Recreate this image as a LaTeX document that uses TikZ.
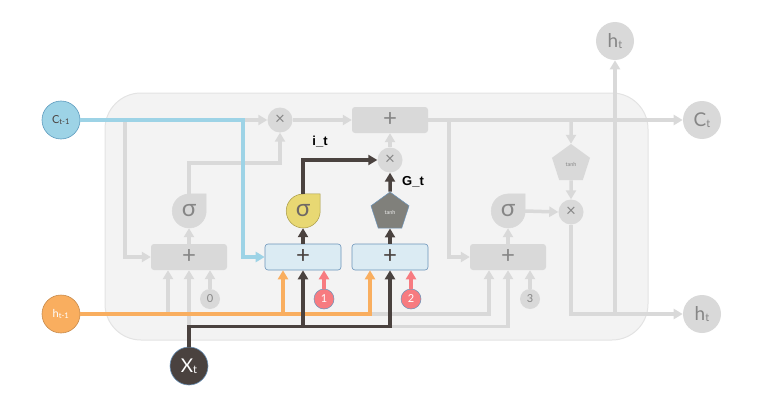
\documentclass[tikz,border=0pt]{standalone}
\usepackage{fontspec}
\setmainfont{Lato}
\newfontfamily\labelfont{Liberation Sans}
\usetikzlibrary{
  positioning,
  arrows.meta,
  shapes.geometric,
  backgrounds
}
\definecolor{cellbg}{HTML}{F3F3F3}
\definecolor{cellrim}{HTML}{E3E3E3}
\definecolor{lgray}{HTML}{D9D9D9}
\definecolor{tgray}{HTML}{868686}
\definecolor{cblue}{HTML}{9DD3E6}
\definecolor{cbluerim}{HTML}{5E9CBF}
\definecolor{boxblue}{HTML}{DBEBF3}
\definecolor{boxrim}{HTML}{6C94BA}
\definecolor{horange}{HTML}{F9AE5F}
\definecolor{xdark}{HTML}{4A423F}
\definecolor{gred}{HTML}{F77B80}
\definecolor{syellow}{HTML}{E8D873}
\definecolor{syellowrim}{HTML}{A89A45}
\definecolor{tanhgray}{HTML}{80807B}
\tikzset{
  >={Triangle[length=9pt,width=10pt]},
  gline/.style={draw=lgray,line width=3.5pt},
  garrow/.style={gline,->},
  barrow/.style={draw=cblue,line width=3.5pt,->},
  oarrow/.style={draw=horange,line width=3.5pt,->},
  karrow/.style={draw=xdark,line width=3.5pt,->},
  rarrow/.style={draw=gred,line width=3.5pt,->},
  circ/.style={circle,minimum size=38pt,inner sep=0pt,line width=0.6pt},
  outcirc/.style={circ,fill=lgray,text=tgray,font=\fontsize{19}{19}\selectfont},
  sumbox/.style={rectangle,rounded corners=3pt,minimum width=76pt,minimum height=26pt,
    fill=lgray,text=tgray,font=\fontsize{24}{24}\selectfont},
  sumboxon/.style={sumbox,fill=boxblue,draw=boxrim,line width=0.6pt,text=xdark},
  sigbox/.style={circle,minimum size=34pt,inner sep=0pt,text=tgray,font=\fontsize{24}{24}\selectfont},
  mulnode/.style={circle,minimum size=25pt,inner sep=0pt,fill=lgray,text=tgray,font=\fontsize{17}{17}\selectfont},
  tanhbox/.style={regular polygon,regular polygon sides=5,minimum size=40pt,inner sep=0pt,
    font=\fontsize{5.5}{5.5}\selectfont},
  numnode/.style={circle,minimum size=20pt,inner sep=0pt,font=\fontsize{11}{11}\selectfont},
  gatelabel/.style={font=\labelfont\bfseries\fontsize{13}{13}\selectfont}
}

\begin{document}
\begin{tikzpicture}[x=1pt, y=-1pt, node distance=46pt, on grid]
    \useasboundingbox (0,0) rectangle (776,404);
    \begin{scope}[on background layer]
      \draw[cellrim, fill=cellbg, line width=1pt, rounded corners=36pt] (105,93) rectangle (648,340);
    \end{scope}

    % inputs and outputs
    \node[circ, fill=cblue, draw=cbluerim, text=xdark, font=\fontsize{11}{11}\selectfont] (ctm) at (61,120) {C\textsubscript{t-1}};
    \node[circ, fill=horange, draw=horange!80!black, text=white, font=\fontsize{11}{11}\selectfont] (htm) at (61,314) {h\textsubscript{t-1}};
    \node[circ, fill=xdark, draw=boxrim, text=white, font=\fontsize{19}{19}\selectfont] (xt) at (189,366) {X\raisebox{-1pt}{\fontsize{11}{11}\selectfont t}};
    \node[outcirc] (htop) at (615,41) {h\raisebox{-1pt}{\fontsize{11}{11}\selectfont t}};
    \node[outcirc] (ct) at (702,120) {C\raisebox{-1pt}{\fontsize{11}{11}\selectfont t}};
    \node[outcirc] (hout) at (702,314) {h\raisebox{-1pt}{\fontsize{11}{11}\selectfont t}};

    % forget gate
    \node[sumbox] (fsum) at (189,257) {+};
    \node[sigbox, above=of fsum] (fsig) {σ};
    \node[mulnode] (fmul) at (280,120) {×};
    \node[numnode, fill=lgray, text=tgray] (n0) at (210,299) {0};

    % cell update
    \node[sumbox] (csum) at (390,120) {+};

    % input gate
    \node[sumboxon] (isum) at (303,257) {+};
    \node[sigbox, above=of isum, text=xdark!80] (isig) {σ};
    \node[numnode, fill=gred, draw=boxrim, line width=0.5pt, text=white] (n1) at (324,299) {1};

    % candidate
    \node[sumboxon] (gsum) at (390,257) {+};
    \node[tanhbox, fill=tanhgray, draw=boxrim, line width=0.5pt, text=white!85!gray, above=45pt of gsum] (gtanh) {tanh};
    \node[mulnode, above=52pt of gtanh] (imul) {×};
    \node[numnode, fill=gred, draw=boxrim, line width=0.5pt, text=white] (n2) at (411,299) {2};

    % output gate
    \node[sumbox] (osum) at (508,257) {+};
    \node[sigbox, above=of osum] (osig) {σ};
    \node[mulnode] (omul) at (571,212) {×};
    \node[tanhbox, fill=lgray, text=tgray, above=48pt of omul] (otanh) {tanh};
    \node[numnode, fill=lgray, text=tgray] (n3) at (530,299) {3};

    \node[gatelabel] (itlab) at (320,142) {i\_t};
    \node[gatelabel] (gtlab) at (413,182) {G\_t};

    % sigma teardrops
    \begin{scope}[on background layer]
      \foreach \s/\c/\r in {fsig/lgray/lgray, isig/syellow/syellowrim, osig/lgray/lgray}
        \draw[fill=\c, draw=\r, line width=0.5pt] (\s.north) -- ++(17pt,0pt) -- (\s.east)
          arc[start angle=0, end angle=-270, radius=17pt] -- cycle;
    \end{scope}

    \coordinate (fsplit) at (125,120);
    \coordinate (cbend) at (243,120);
    \coordinate (osplit) at (449,120);
    \coordinate (tsplit) at (571,120);
    \coordinate (hsplit) at (615,314);

    % grey paths
    \draw[garrow] (ctm.east) -- (fmul.west);
    \draw[garrow] (fsplit) |- (fsum.west);
    \draw[garrow] (fsum) -- (fsig);
    \draw[garrow] (fsig.north) -- ++(0,-31) -| (fmul.south);
    \draw[garrow] (fmul) -- (csum);
    \draw[garrow] (imul) -- (csum);
    \draw[garrow] (csum.east) -- (ct.west);
    \draw[garrow] (osplit) |- (osum.west);
    \draw[garrow] (tsplit) -- (otanh.north);
    \draw[garrow] (otanh) -- (omul);
    \draw[garrow] (osum) -- (osig);
    \draw[garrow] (osig.east) -- (omul.west);
    \draw[garrow] (omul.south) |- (hout.west);
    \draw[garrow] (hsplit) -- (htop.south);
    \draw[garrow] (htm.east) -| ([xshift=-19pt]osum.south);
    \draw[garrow] (htm.east) -| ([xshift=-21pt]fsum.south);
    \draw[garrow] (xt.north) -- ++(0,-20) -| (osum.south);
    \draw[garrow] (xt.north) -- (fsum.south);
    \draw[garrow] (n0) -- (n0 |- fsum.south);
    \draw[garrow] (n3) -- (n3 |- osum.south);

    % active paths
    \draw[barrow] (ctm.east) -- (cbend) |- (isum.west);
    \draw[oarrow] (htm.east) -| ([xshift=-20pt]isum.south);
    \draw[oarrow] (htm.east) -| ([xshift=-20pt]gsum.south);
    \draw[karrow] (xt.north) -- ++(0,-20) -| (isum.south);
    \draw[karrow] (xt.north) -- ++(0,-20) -| (gsum.south);
    \draw[rarrow] (n1) -- (n1 |- isum.south);
    \draw[rarrow] (n2) -- (n2 |- gsum.south);
    \draw[karrow] (isum) -- (isig);
    \draw[karrow] (isig.north) |- (imul.west);
    \draw[karrow] (gsum) -- (gtanh);
    \draw[karrow] (gtanh) -- (imul);
\end{tikzpicture}
\end{document}
